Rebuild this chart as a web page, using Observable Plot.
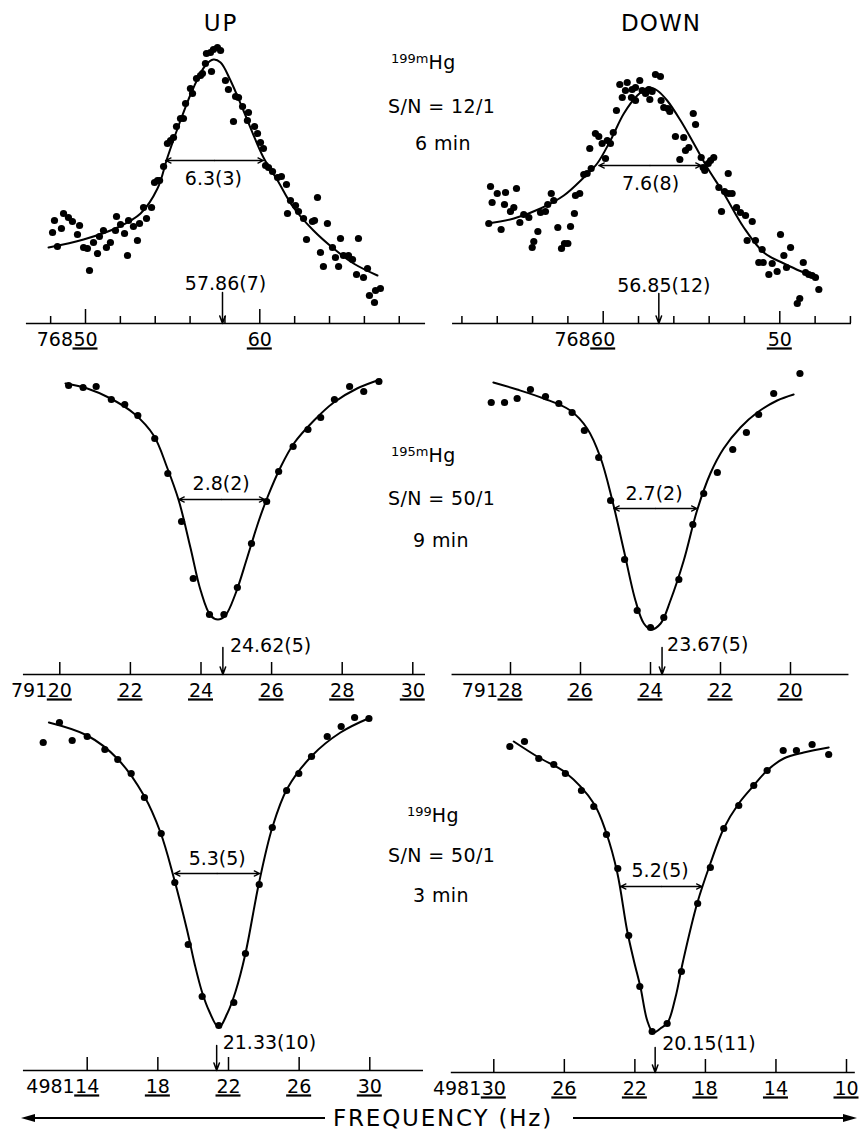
<!DOCTYPE html>
<html><head><meta charset="utf-8">
<script src="https://cdn.jsdelivr.net/npm/d3@7"></script>
<script src="https://cdn.jsdelivr.net/npm/@observablehq/plot@0.6"></script>
<style>
body{margin:0;background:#fff;}
#fig{position:relative;width:861px;height:1132px;font-family:"DejaVu Sans","Liberation Sans",sans-serif;color:#000;overflow:hidden;background:#fff}
#fig svg{position:absolute;overflow:visible}
.lbl{position:absolute;font-size:19px;white-space:nowrap;line-height:1;letter-spacing:0.4px}
.lbl .sup{font-size:13px;position:relative;top:-6px;letter-spacing:0}
.ttl{position:absolute;font-size:23px;line-height:1;white-space:nowrap;text-align:center}
</style></head><body>
<div id="fig">
  <div class="ttl" style="left:171px;top:12px;width:100px;letter-spacing:2px">UP</div>
  <div class="ttl" style="left:611px;top:12px;width:100px;letter-spacing:1px">DOWN</div>
  <div class="lbl" style="left:391px;top:53px"><span class="sup">199m</span>Hg</div>
  <div class="lbl" style="left:388px;top:97px">S/N = 12/1</div>
  <div class="lbl" style="left:415px;top:134px">6 min</div>
  <div class="lbl" style="left:391px;top:446px"><span class="sup">195m</span>Hg</div>
  <div class="lbl" style="left:388px;top:489px">S/N = 50/1</div>
  <div class="lbl" style="left:413px;top:531px">9 min</div>
  <div class="lbl" style="left:407px;top:806px"><span class="sup">199</span>Hg</div>
  <div class="lbl" style="left:388px;top:846px">S/N = 50/1</div>
  <div class="lbl" style="left:413px;top:886px">3 min</div>
  <div class="ttl" style="left:333px;top:1107px;letter-spacing:1.8px">FREQUENCY (Hz)</div>
  <svg style="left:0;top:1100px" width="861" height="36">
    <line x1="30" y1="18" x2="325" y2="18" stroke="#000" stroke-width="2"/>
    <path d="M21,18 L35,14 L35,22Z" fill="#000"/>
    <line x1="573" y1="18" x2="848" y2="18" stroke="#000" stroke-width="2"/>
    <path d="M857,18 L843,14 L843,22Z" fill="#000"/>
  </svg>
</div>
<script>
const FONT = '"DejaVu Sans","Liberation Sans",sans-serif';

// ---------- data (frequency offsets in Hz, signal in arbitrary units) ----------
// 199mHg, sweep UP (76850..76868 Hz)
const hg199mUpPoints = [[48.11,91],[48.22,103],[48.62,95],[48.74,110],[49.02,106],[49.25,102],[49.54,89],[49.66,98],[48.39,77],[49.89,76],[50.11,75],[50.23,53],[50.46,81],[50.69,70],[50.80,87],[51.03,93],[51.20,76],[51.43,81],[51.72,93],[51.78,107],[52.01,99],[52.24,90],[52.41,68],[52.47,103],[52.75,97],[52.98,83],[53.10,100],[53.33,116],[53.50,105],[53.79,116],[53.96,141],[54.13,143],[54.25,143],[54.48,157],[54.70,180],[54.88,183],[55.05,186],[55.22,197],[55.45,205],[55.62,205],[55.74,220],[56.02,235],[56.14,230],[56.37,245],[56.60,248],[56.71,250],[56.88,260],[56.94,270],[57.17,271],[57.23,252],[57.34,274],[57.57,276],[57.75,273],[58.03,243],[58.20,234],[58.49,202],[58.61,227],[58.78,226],[59.01,217],[59.29,203],[59.35,211],[59.70,197],[59.87,190],[60.04,181],[60.21,175],[60.33,158],[60.50,156],[60.73,152],[61.02,146],[61.24,147],[61.53,139],[61.59,110],[61.76,123],[62.05,118],[62.22,112],[62.51,105],[62.68,84],[63.02,102],[63.14,103],[63.31,126],[63.48,71],[63.65,57],[63.88,100],[64.17,76],[64.34,66],[64.52,57],[64.63,85],[64.80,68],[65.09,68],[65.32,64],[65.55,49],[65.66,85],[65.95,46],[66.18,55],[66.29,28],[66.58,21],[66.64,33],[66.92,35]];
const hg199mUpFit = [[47.88,76],[49.89,84],[51.84,96],[53.16,110],[54.13,135],[54.70,166],[55.45,203],[56.20,236],[56.88,258],[57.34,264],[57.75,261],[58.32,243],[59.06,213],[60.21,166],[61.02,143],[61.93,116],[63.08,93],[64.23,75],[65.38,60],[66.75,48]];
// 199mHg, sweep DOWN
const hg199mDownPoints = [[66.38,137],[66.29,121],[66.00,130],[65.53,131],[65.59,119],[65.25,112],[64.91,135],[65.06,116],[66.48,100],[65.78,94],[64.72,101],[64.50,109],[64.21,106],[64.02,76],[63.93,82],[63.70,92],[63.55,111],[63.27,112],[63.14,119],[62.94,130],[62.80,123],[62.57,96],[62.36,75],[62.19,80],[62.00,80],[61.85,97],[61.63,110],[61.57,128],[61.33,130],[61.10,149],[60.91,150],[60.68,155],[60.76,175],[60.44,190],[60.25,187],[60.06,180],[59.87,165],[59.77,183],[59.59,180],[59.43,191],[59.25,213],[59.06,239],[58.92,226],[58.74,233],[58.64,241],[58.40,226],[58.36,234],[58.17,236],[58.17,223],[57.93,243],[57.79,233],[57.60,230],[57.42,234],[57.36,224],[57.23,232],[57.04,249],[56.76,247],[56.72,223],[56.57,216],[56.34,215],[56.23,212],[55.91,187],[55.66,164],[55.44,186],[55.34,173],[55.15,176],[54.90,210],[54.77,199],[54.45,166],[54.34,156],[54.25,153],[54.05,160],[53.92,163],[53.74,166],[53.45,136],[53.30,112],[53.13,132],[52.92,150],[52.89,130],[52.70,130],[52.45,116],[52.23,111],[51.94,108],[51.85,83],[51.56,102],[51.38,83],[51.00,74],[51.19,61],[50.94,61],[50.62,49],[50.43,60],[50.15,52],[49.96,89],[49.77,68],[49.62,56],[49.39,76],[49.01,20],[48.87,25],[48.67,61],[48.54,51],[48.36,49],[48.17,48],[47.98,46],[47.79,34]];
const hg199mDownFit = [[66.57,100],[65.06,105],[63.55,115],[62.23,128],[61.10,146],[60.34,160],[59.59,183],[58.83,210],[58.07,228],[57.42,236],[56.94,233],[56.38,223],[55.62,203],[54.87,180],[54.11,156],[53.17,130],[52.04,96],[50.91,71],[49.77,60],[47.88,45]];
// 195mHg, UP (79120..79130 Hz)
const hg195mUpPoints = [[20.25,289],[20.66,287],[21.03,288],[21.46,275],[21.84,270],[22.21,259],[22.69,236],[23.06,201],[23.45,153],[23.78,96],[24.24,60],[24.65,60],[25.03,87],[25.43,131],[25.86,173],[26.20,203],[26.61,228],[27.03,245],[27.39,257],[27.78,275],[28.21,288],[28.61,283],[29.04,293]];
const hg195mUpFit = [[20.16,291],[20.78,286],[21.44,276],[22.10,261],[22.66,239],[23.04,207],[23.37,174],[23.70,127],[23.99,84],[24.27,59],[24.48,55],[24.69,59],[24.98,81],[25.31,117],[25.64,154],[25.88,177],[26.25,207],[26.63,231],[27.20,254],[27.76,272],[28.42,286],[29.08,295]];
// 195mHg, DOWN
const hg195mDownPoints = [[28.55,272],[28.17,272],[27.81,276],[27.43,285],[27.00,278],[26.62,271],[26.24,262],[25.89,244],[25.48,217],[25.14,174],[24.74,115],[24.38,64],[24.00,47],[23.62,57],[23.19,95],[22.79,150],[22.48,181],[22.09,202],[21.65,225],[21.26,242],[20.91,260],[20.48,281],[19.73,301]];
const hg195mDownFit = [[28.49,292],[27.81,285],[27.05,276],[26.29,264],[25.81,246],[25.43,217],[25.09,174],[24.76,124],[24.43,74],[24.19,51],[23.98,45],[23.71,51],[23.43,74],[23.05,114],[22.67,164],[22.29,201],[21.91,226],[21.43,247],[20.95,262],[20.38,274],[19.91,280]];
// 199Hg, UP (498114..498130 Hz)
const hg199UpPoints = [[11.51,328],[12.43,348],[13.15,330],[14.00,334],[15.00,321],[15.73,311],[16.49,297],[17.24,273],[18.19,237],[18.96,188],[19.72,126],[20.51,74],[21.45,45],[22.30,68],[22.96,117],[23.74,186],[24.48,243],[25.29,280],[25.98,297],[26.70,314],[27.59,334],[28.38,344],[29.14,353],[29.95,352]];
const hg199UpFit = [[11.83,348],[14.00,335],[15.70,312],[17.21,275],[18.15,238],[18.90,193],[19.66,140],[20.09,106],[20.51,78],[20.89,60],[21.45,43],[21.93,57],[22.40,79],[22.96,117],[23.72,187],[24.48,243],[25.33,282],[26.74,315],[28.34,338],[30.04,353]];
// 199Hg, DOWN
const hg199DownPoints = [[29.09,326],[28.26,331],[27.45,314],[26.60,308],[25.94,299],[25.03,282],[24.33,266],[23.61,238],[22.97,204],[22.35,137],[21.72,86],[21.02,41],[20.17,49],[19.36,101],[18.44,169],[17.72,205],[16.96,244],[16.11,267],[15.26,287],[14.50,302],[13.59,322],[12.84,322],[11.95,328],[11.01,318]];
const hg199DownFit = [[28.87,331],[27.45,315],[25.94,300],[24.33,269],[23.61,239],[23.00,200],[22.44,142],[22.06,112],[21.68,85],[21.30,52],[20.96,40],[20.55,44],[20.14,50],[19.70,75],[19.26,112],[18.47,169],[17.72,209],[16.96,244],[16.11,269],[15.26,287],[14.50,302],[13.56,314],[12.43,320],[11.01,325]];

// tick values and labels
const ticksUp199m = [48,50,52,54,56,58,60,62,64,66,68];
const ticksDown199m = [68,66,64,62,60,58,56,54,52,50,48,46];
const major199m = [50,60];
const labels199m = [[50,"50"],[60,"60"]];
const labelsDown199m = [[60,"60"],[50,"50"]];
const ticksUp195m = [20,22,24,26,28,30];
const ticksDown195m = [28,26,24,22,20];
const labelsUp195m = [[20,"20"],[22,"22"],[24,"24"],[26,"26"],[28,"28"],[30,"30"]];
const labelsDown195m = [[28,"28"],[26,"26"],[24,"24"],[22,"22"],[20,"20"]];
const ticksUp199 = [14,18,22,26,30];
const ticksDown199 = [30,26,22,18,14,10];
const labelsUp199 = [[14,"14"],[18,"18"],[22,"22"],[26,"26"],[30,"30"]];
const labelsDown199 = [[30,"30"],[26,"26"],[22,"22"],[18,"18"],[14,"14"],[10,"10"]];

// line widths (FWHM) and line centres
const fwhmText = ["6.3(3)","7.6(8)","2.8(2)","2.7(2)","5.3(5)","5.2(5)"];
const fwhmEnds = [[54.59,60.21],[60.25,54.45],[23.37,25.81],[25.05,22.67],[18.94,23.77],[22.82,18.19]];
const fwhmLevel = [163,158,175,166,197,186];
const fwhmLabelAt = [[57.34,145],[57.32,140],[24.57,191],[23.90,181],[21.36,212],[20.57,202]];
const centerText = ["57.86(7)","56.85(12)","24.62(5)","23.67(5)","21.33(10)","20.15(11)"];
const centerArrowAt = [57.86,56.85,24.62,23.67,21.33,20.85];

// ---------- layout ----------
const panels = [
  {box:[0,30,430,320], axisY:323, xDom:[50,60], xPix:[85,259.3], ext:[46.61,69.51], ticks:ticksUp199m, major:major199m, len:[7,14], labels:labels199m, prefix:"768", pts:hg199mUpPoints, fit:hg199mUpFit, arrowLen:31, cAnchor:"middle", cDx:3, cDy:-40},
  {box:[430,30,431,320], axisY:323, xDom:[60,50], xPix:[602.7,779.3], ext:[68.53,45.94], ticks:ticksDown199m, major:major199m, len:[7,12], labels:labelsDown199m, prefix:"768", pts:hg199mDownPoints, fit:hg199mDownFit, arrowLen:30, cAnchor:"middle", cDx:5, cDy:-38},
  {box:[0,350,430,355], axisY:674, xDom:[20,30], xPix:[59.3,412.3], ext:[18.97,30.36], ticks:ticksUp195m, major:ticksUp195m, len:[12,12], labels:labelsUp195m, prefix:"791", pts:hg195mUpPoints, fit:hg195mUpFit, arrowLen:27, cAnchor:"start", cDx:7, cDy:-29},
  {box:[430,350,431,355], axisY:674, xDom:[28,20], xPix:[510,790], ext:[29.67,18.33], ticks:ticksDown195m, major:ticksDown195m, len:[12,12], labels:labelsDown195m, prefix:"791", pts:hg195mDownPoints, fit:hg195mDownFit, arrowLen:27, cAnchor:"start", cDx:5, cDy:-30},
  {box:[0,705,430,395], axisY:1070, xDom:[14,30], xPix:[86.7,369.3], ext:[10.39,33.04], ticks:ticksUp199, major:ticksUp199, len:[13,13], labels:labelsUp199, prefix:"4981", pts:hg199UpPoints, fit:hg199UpFit, arrowLen:25, cAnchor:"start", cDx:6, cDy:-28},
  {box:[430,705,431,395], axisY:1072, xDom:[30,10], xPix:[493.3,846], ext:[32.41,9.50], ticks:ticksDown199, major:ticksDown199, len:[13,13], labels:labelsDown199, prefix:"4981", pts:hg199DownPoints, fit:hg199DownFit, arrowLen:25, cAnchor:"start", cDx:7, cDy:-29}
];

const fig = document.getElementById("fig");
panels.forEach((p, i) => {
  const [bx, by, bw, bh] = p.box;
  const ay = p.axisY - by;
  const minor = p.ticks.filter(t => !p.major.includes(t));
  const [e1, e2] = fwhmEnds[i];
  const mid = (e1 + e2) / 2;
  const lev = fwhmLevel[i];
  // half width of a two-digit underline, converted from pixels to Hz
  const hzPerPx = Math.abs(p.xDom[1] - p.xDom[0]) / Math.abs(p.xPix[1] - p.xPix[0]);
  const hw = 12.5 * hzPerPx;
  const chart = Plot.plot({
    width: bw, height: bh, margin: 0,
    style: {background: "transparent", overflow: "visible", fontFamily: FONT, fontSize: "19px", color: "#000"},
    x: {type: "linear", domain: p.xDom, range: [p.xPix[0] - bx, p.xPix[1] - bx], axis: null},
    y: {type: "linear", domain: [0, 100], range: [ay, ay - 100], axis: null},
    marks: [
      Plot.ruleY([0], {x1: p.ext[0], x2: p.ext[1], stroke: "#000", strokeWidth: 1.7}),
      Plot.ruleX(minor, {x: d => d, y1: 0, y2: 0, insetTop: -p.len[0], stroke: "#000", strokeWidth: 1.5}),
      Plot.ruleX(p.major, {x: d => d, y1: 0, y2: 0, insetTop: -p.len[1], stroke: "#000", strokeWidth: 1.5}),
      Plot.text(p.labels, {x: d => d[0], y: 0, text: d => d[1], dy: 16, fontSize: 19}),
      Plot.ruleY(p.labels, {y: 0, x1: d => d[0] - hw, x2: d => d[0] + hw, dy: 25, stroke: "#000", strokeWidth: 2.2}),
      Plot.text([p.labels[0]], {x: d => d[0], y: 0, text: () => p.prefix, dy: 16, dx: -12.5, textAnchor: "end", fontSize: 19}),
      Plot.line(p.fit, {x: d => d[0], y: d => d[1], curve: "catmull-rom", stroke: "#000", strokeWidth: 2}),
      Plot.dot(p.pts, {x: d => d[0], y: d => d[1], r: 3.6, fill: "#000"}),
      Plot.arrow([[mid, e1], [mid, e2]], {x1: d => d[0], x2: d => d[1], y1: lev, y2: lev, headLength: 7, headAngle: 50, stroke: "#000", strokeWidth: 1.3}),
      Plot.text([fwhmLabelAt[i]], {x: d => d[0], y: d => d[1], text: () => fwhmText[i], fontSize: 19}),
      Plot.arrow([centerArrowAt[i]], {x1: d => d, x2: d => d, y1: p.arrowLen, y2: 0, headLength: 8, headAngle: 40, stroke: "#000", strokeWidth: 1.5}),
      Plot.text([centerArrowAt[i]], {x: d => d, y: 0, dx: p.cDx, dy: p.cDy, textAnchor: p.cAnchor, text: () => centerText[i], fontSize: 19})
    ]
  });
  chart.style.left = bx + "px";
  chart.style.top = by + "px";
  chart.style.position = "absolute";
  fig.appendChild(chart);
});
</script>
</body></html>
